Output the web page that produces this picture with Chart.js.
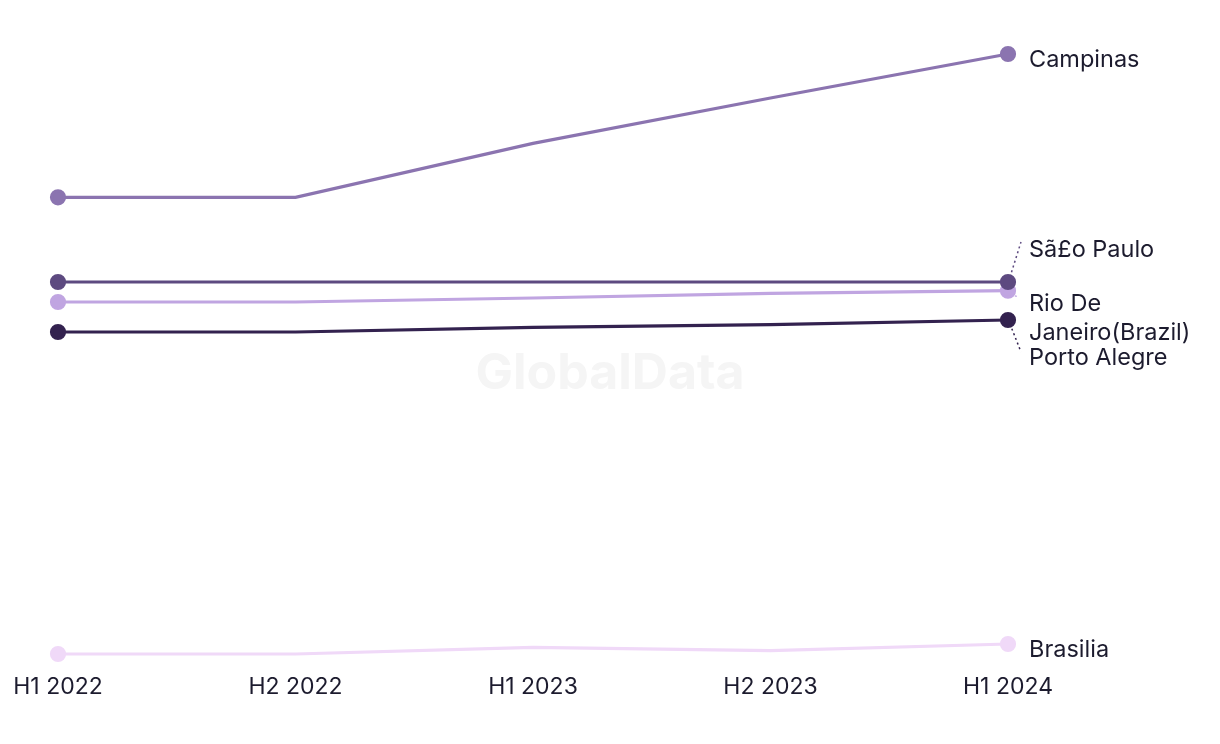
<!DOCTYPE html>
<html>
<head>
<meta charset="utf-8">
<script src="https://cdn.jsdelivr.net/npm/chart.js@4/dist/chart.umd.min.js"></script>
<style>
  html, body { margin: 0; padding: 0; background: #fff; }
  #wrap { width: 1220px; height: 744px; position: relative; }
</style>
</head>
<body>
<div id="wrap"><canvas id="chart" width="1220" height="744"></canvas></div>
<script>
const periods = ["H1 2022", "H2 2022", "H1 2023", "H2 2023", "H1 2024"];

const campinas = [78.5, 78.5, 86.6, 93.4, 100];
const saoPaulo = [65.8, 65.8, 65.8, 65.8, 65.8];
const rioDeJaneiro = [62.8, 62.8, 63.4, 64.1, 64.5];
const portoAlegre = [58.3, 58.3, 59.0, 59.4, 60.1];
const brasilia = [10, 10, 11.0, 10.5, 11.5];

const cityNames = ["Campinas", "Sã£o Paulo", "Rio De\nJaneiro(Brazil)", "Porto Alegre", "Brasilia"];
const cityColors = ["#8b74b0", "#5d4a80", "#c0a5e1", "#33224f", "#f0d9f8"];

// label offsets from the last point, and leader lines (dx/dy of the line end)
const labelDy = [6, -32, 13, 38, 6];
const leaderTo = [null, [13, -40], [10, 6], [13, 32], null];

const textColor = "#1c1b2e";
const fontFamily = "Inter, 'Noto Sans', sans-serif";

const endLabels = {
  id: "endLabels",
  afterDatasetsDraw(chart) {
    const ctx = chart.ctx;
    ctx.save();
    chart.data.datasets.forEach((ds, i) => {
      const pts = chart.getDatasetMeta(i).data;
      const last = pts[pts.length - 1];
      if (leaderTo[i]) {
        ctx.beginPath();
        ctx.setLineDash([2, 3]);
        ctx.lineWidth = 1.5;
        ctx.strokeStyle = cityColors[i];
        ctx.moveTo(last.x + 2, last.y + (leaderTo[i][1] < 0 ? -5 : 4));
        ctx.lineTo(last.x + leaderTo[i][0], last.y + leaderTo[i][1]);
        ctx.stroke();
      }
      ctx.setLineDash([]);
      ctx.fillStyle = textColor;
      ctx.font = "23.5px " + fontFamily;
      ctx.textBaseline = "middle";
      ctx.textAlign = "left";
      const lines = cityNames[i].split("\n");
      lines.forEach((ln, k) => {
        ctx.fillText(ln, last.x + 21, last.y + labelDy[i] + k * 29);
      });
    });
    ctx.restore();
  }
};

const watermark = {
  id: "watermark",
  beforeDatasetsDraw(chart) {
    const ctx = chart.ctx;
    ctx.save();
    ctx.fillStyle = "#f5f5f5";
    ctx.font = "bold 50px " + fontFamily;
    ctx.textAlign = "center";
    ctx.textBaseline = "middle";
    ctx.fillText("GlobalData", 610, 374);
    ctx.restore();
  }
};

function series(label, data, i) {
  return {
    label: label,
    data: data,
    borderColor: cityColors[i],
    backgroundColor: cityColors[i],
    borderWidth: 3.2,
    pointRadius: [6.5, 0, 0, 0, 6.5],
    pointHoverRadius: 0,
    tension: 0,
    clip: false
  };
}

new Chart(document.getElementById("chart"), {
  type: "line",
  data: {
    labels: periods,
    datasets: [
      series("Campinas", campinas, 0),
      series("São Paulo", saoPaulo, 1),
      series("Rio De Janeiro(Brazil)", rioDeJaneiro, 2),
      series("Porto Alegre", portoAlegre, 3),
      series("Brasilia", brasilia, 4)
    ]
  },
  options: {
    responsive: false,
    animation: false,
    layout: { padding: { top: 54, left: 58, right: 212, bottom: 0 } },
    plugins: { legend: { display: false }, tooltip: { enabled: false } },
    scales: {
      x: {
        offset: false,
        grid: { display: false, drawTicks: false },
        border: { display: false },
        ticks: { color: textColor, font: { size: 23, family: fontFamily }, padding: 19, maxRotation: 0, autoSkip: false },
        afterFit(scale) {
          scale.height = 90;
          scale.paddingLeft = 0;
          scale.paddingRight = 0;
        }
      },
      y: {
        display: false,
        min: 10,
        max: 100
      }
    }
  },
  plugins: [watermark, endLabels]
});
</script>
</body>
</html>
